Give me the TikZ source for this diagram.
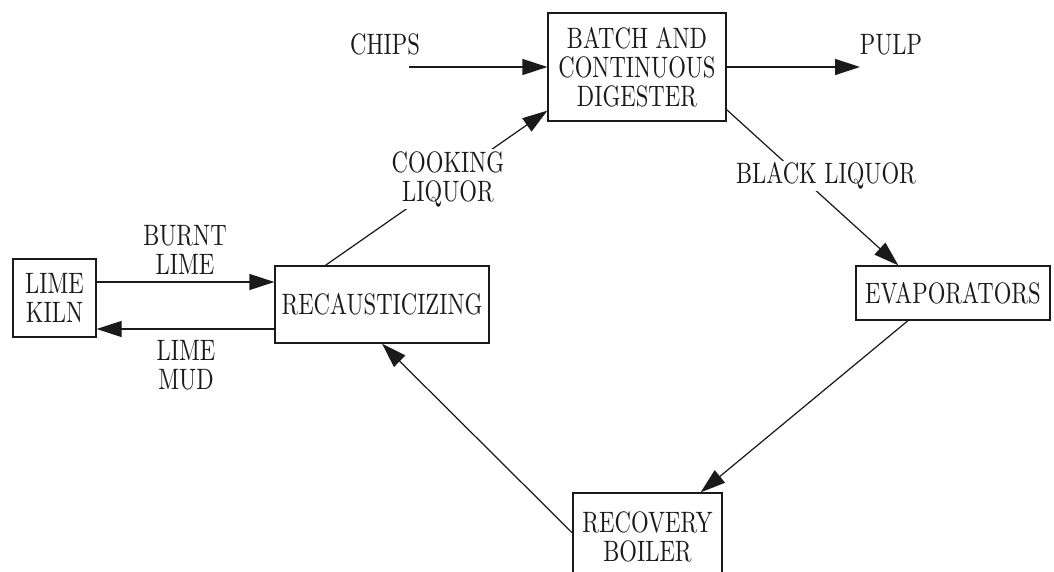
\documentclass[tikz,border=0pt]{standalone}
\usepackage{xcolor}
\usepackage{fontspec}
\usepackage{tikz}
\usetikzlibrary{positioning,arrows.meta}
\definecolor{ink}{HTML}{1A1A1A}
\newfontfamily\diagfont{lmroman10-regular.otf}[FakeStretch=0.77]

\begin{document}
\begin{tikzpicture}[
  box/.style={draw=ink, line width=0.7pt, align=center, inner sep=0pt,
              font=\diagfont\fontsize{16.8}{16.5}\selectfont, text=ink},
  flow/.style={draw=ink, line width=0.7pt, -{Triangle[length=5mm,width=3.2mm]}},
  lbl/.style={align=center, inner sep=1pt, fill=white,
              font=\diagfont\fontsize{16.8}{16.5}\selectfont, text=ink}
]
\useasboundingbox (0,0) rectangle (21.08,11.42);
\clip (0,0) rectangle (21.08,11.42);

% process units
\node[box, minimum width=1.66cm, minimum height=1.56cm] (kiln) at (1.09,5.46) {LIME\\KILN};
\node[box, minimum width=4.28cm, minimum height=1.54cm] (recaust) at (7.64,5.33) {RECAUSTICIZING};
\node[box, minimum width=3.56cm, minimum height=2.16cm] (digester) at (12.74,10.08) {BATCH AND\\CONTINUOUS\\DIGESTER};
\node[box, minimum width=3.88cm, minimum height=1.08cm] (evap) at (19.06,5.56) {EVAPORATORS};
\node[box, minimum width=2.98cm, minimum height=1.76cm] (recov) at (12.95,0.68) {RECOVERY\\BOILER};

% free ends
\coordinate (chipsin) at (8.18,10.08);
\coordinate (pulpout) at (17.2,10.08);
\coordinate (burnt) at ([yshift=3.2mm]kiln.east);
\coordinate (mud) at ([yshift=-6.2mm]kiln.east);

% streams
\draw[flow] (chipsin) -- (chipsin -| digester.west);
\draw[flow] (pulpout -| digester.east) -- (pulpout);
\draw[flow] ([yshift=2.4mm]digester.south east) -- ([xshift=8.6mm]evap.north west);
\draw[flow] ([xshift=-9mm]evap.south) -- ([xshift=-4.4mm]recov.north east);
\draw[flow] ([yshift=0.8mm]recov.west) -- (recaust.south);
\draw[flow] ([xshift=10.2mm]recaust.north west) -- ([yshift=2.2mm]digester.south west);
\draw[flow] (burnt) -- (burnt -| recaust.west);
\draw[flow] (mud -| recaust.west) -- (mud);

% labels
\node[lbl] (chips) at (7.7,10.54) {CHIPS};
\node[lbl] (pulp) at (17.82,10.52) {PULP};
\node[lbl] (black) at (16.52,7.9) {BLACK LIQUOR};
\node[lbl] (cooking) at (8.96,7.84) {COOKING\\LIQUOR};
\node[lbl] (burntlbl) at (3.7,6.42) {BURNT\\LIME};
\node[lbl] (mudlbl) at (3.72,4.12) {LIME\\MUD};
\end{tikzpicture}
\end{document}
